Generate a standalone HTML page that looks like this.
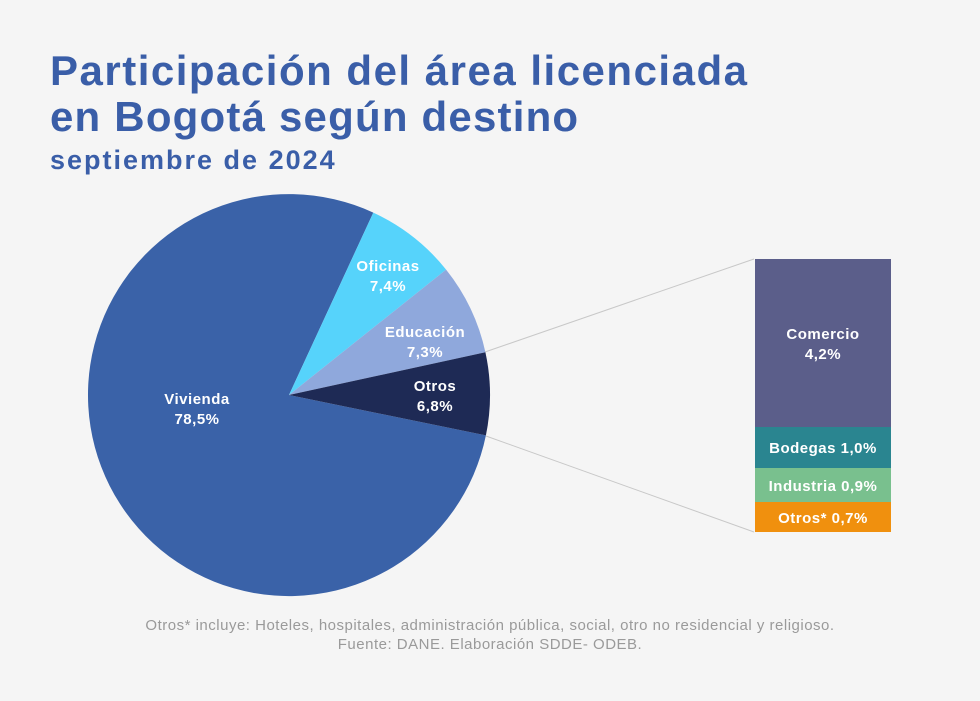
<!DOCTYPE html>
<html><head><meta charset="utf-8"><style>
html,body{margin:0;padding:0;background:#f5f5f5;}
body{width:980px;height:701px;position:relative;overflow:hidden;font-family:"Liberation Sans",sans-serif;}
.t{position:absolute;left:50px;color:#3a5ea8;font-weight:bold;white-space:nowrap;}
</style></head><body>
<div class="t" style="top:47px;font-size:42px;letter-spacing:1.5px;">Participación del área licenciada</div>
<div class="t" style="top:93px;font-size:42px;letter-spacing:1.2px;">en Bogotá según destino</div>
<div class="t" style="top:145px;font-size:27px;letter-spacing:2px;">septiembre de 2024</div>
<svg width="980" height="701" style="position:absolute;left:0;top:0" font-family="Liberation Sans, sans-serif">
<line x1="485" y1="352" x2="754" y2="259" stroke="#c8c8c8" stroke-width="1"/>
<line x1="486" y1="436" x2="754" y2="532" stroke="#c8c8c8" stroke-width="1"/>
<path d="M289,395 L485.9,435.4 A201,201 0 1 1 373.3,212.6 Z" fill="#3a62a8"/>
<path d="M289,395 L373.3,212.6 A201,201 0 0 1 446.1,269.6 Z" fill="#56d3fb"/>
<path d="M289,395 L446.1,269.6 A201,201 0 0 1 485.4,352.2 Z" fill="#8fa8dc"/>
<path d="M289,395 L485.4,352.2 A201,201 0 0 1 485.9,435.4 Z" fill="#1e2a55"/>
<g fill="#fff" font-weight="bold" font-size="15" text-anchor="middle" letter-spacing="0.5">
<text x="197" y="404">Vivienda</text><text x="197" y="424">78,5%</text>
<text x="388" y="271">Oficinas</text><text x="388" y="291">7,4%</text>
<text x="425" y="337">Educación</text><text x="425" y="357">7,3%</text>
<text x="435" y="391">Otros</text><text x="435" y="411">6,8%</text>
</g>
<rect x="755" y="259" width="136" height="168" fill="#5b5e8a"/>
<rect x="755" y="427" width="136" height="41" fill="#2a8590"/>
<rect x="755" y="468" width="136" height="34" fill="#79c08e"/>
<rect x="755" y="502" width="136" height="30" fill="#f0900e"/>
<g fill="#fff" font-weight="bold" font-size="15" text-anchor="middle" letter-spacing="0.5">
<text x="823" y="339">Comercio</text><text x="823" y="359">4,2%</text>
<text x="823" y="453">Bodegas 1,0%</text>
<text x="823" y="491">Industria 0,9%</text>
<text x="823" y="523">Otros* 0,7%</text>
</g>
<g fill="#9a9a9a" font-size="15" text-anchor="middle" letter-spacing="0.5">
<text x="490" y="630">Otros* incluye: Hoteles, hospitales, administración pública, social, otro no residencial y religioso.</text>
<text x="490" y="649">Fuente: DANE. Elaboración SDDE- ODEB.</text>
</g>
</svg>
</body></html>
